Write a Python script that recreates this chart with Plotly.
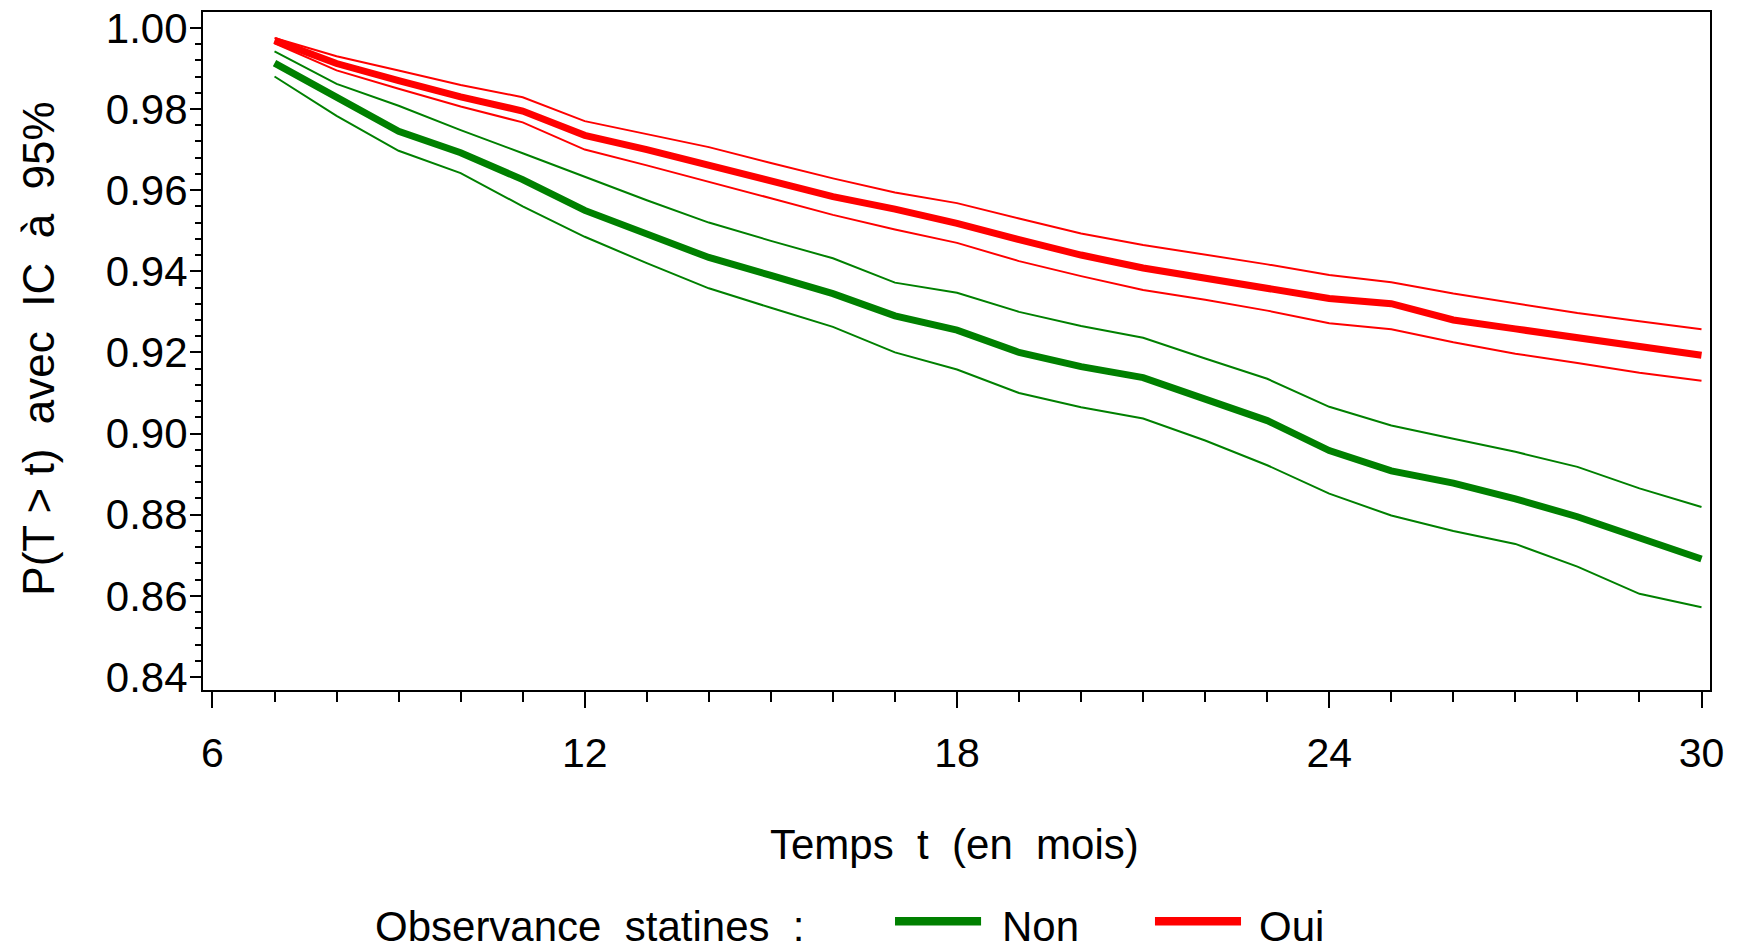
import plotly.graph_objects as go

# ---- data ----
months = [7, 8, 9, 10, 11, 12, 13, 14, 15, 16, 17, 18, 19, 20,
          21, 22, 23, 24, 25, 26, 27, 28, 29, 30]

oui_surv = [0.9969, 0.9912, 0.9870, 0.9830, 0.9795, 0.9735, 0.9700, 0.9662,
            0.9622, 0.9584, 0.9553, 0.9518, 0.9478, 0.9440, 0.9408, 0.9383,
            0.9360, 0.9333, 0.9320, 0.9280, 0.9258, 0.9235, 0.9214, 0.9193]
oui_upper = [0.9975, 0.9930, 0.9895, 0.9859, 0.9829, 0.9770, 0.9738, 0.9706,
             0.9667, 0.9629, 0.9594, 0.9568, 0.9530, 0.9493, 0.9465, 0.9441,
             0.9417, 0.9391, 0.9373, 0.9345, 0.9321, 0.9297, 0.9277, 0.9257]
oui_lower = [0.9962, 0.9895, 0.9850, 0.9806, 0.9767, 0.9700, 0.9661, 0.9621,
             0.9580, 0.9539, 0.9503, 0.9470, 0.9425, 0.9388, 0.9354, 0.9330,
             0.9303, 0.9272, 0.9257, 0.9225, 0.9197, 0.9174, 0.9150, 0.9130]

non_surv = [0.9913, 0.9830, 0.9745, 0.9692, 0.9626, 0.9550, 0.9492, 0.9434,
            0.9390, 0.9345, 0.9290, 0.9255, 0.9200, 0.9165, 0.9138, 0.9083,
            0.9032, 0.8958, 0.8908, 0.8878, 0.8839, 0.8795, 0.8742, 0.8691]
non_upper = [0.9942, 0.9862, 0.9808, 0.9748, 0.9691, 0.9633, 0.9575, 0.9520,
             0.9475, 0.9432, 0.9372, 0.9347, 0.9300, 0.9265, 0.9236, 0.9185,
             0.9135, 0.9066, 0.9020, 0.8987, 0.8955, 0.8918, 0.8865, 0.8819]
non_lower = [0.9880, 0.9783, 0.9697, 0.9642, 0.9560, 0.9485, 0.9420, 0.9358,
             0.9310, 0.9263, 0.9200, 0.9158, 0.9100, 0.9065, 0.9037, 0.8983,
             0.8922, 0.8852, 0.8798, 0.8760, 0.8728, 0.8672, 0.8605, 0.8572]

x_ticks = [6, 12, 18, 24, 30]
y_ticks = [0.84, 0.86, 0.88, 0.90, 0.92, 0.94, 0.96, 0.98, 1.00]
y_tick_labels = ["0.84", "0.86", "0.88", "0.90", "0.92", "0.94", "0.96", "0.98", "1.00"]

GREEN = "#008000"
RED = "#FF0000"
FONT = "Liberation Sans, Arial, sans-serif"

fig = go.Figure()
for y, w in [(non_upper, 2), (non_lower, 2), (non_surv, 7)]:
    fig.add_trace(go.Scatter(x=months, y=y, mode="lines",
                             line=dict(color=GREEN, width=w), showlegend=False,
                             name="Non"))
for y, w in [(oui_upper, 2), (oui_lower, 2), (oui_surv, 7)]:
    fig.add_trace(go.Scatter(x=months, y=y, mode="lines",
                             line=dict(color=RED, width=w), showlegend=False,
                             name="Oui"))

fig.update_layout(
    width=1737, height=951,
    margin=dict(l=203, r=27, t=12, b=261, autoexpand=False),
    paper_bgcolor="white", plot_bgcolor="white",
    font=dict(family=FONT, size=41, color="black"),
    showlegend=False,
)

fig.update_xaxes(
    range=[5.847, 30.137], tickvals=x_ticks, ticktext=[str(v) for v in x_ticks],
    showgrid=False, zeroline=False, automargin=False,
    showline=True, linecolor="black", linewidth=2, mirror=True,
    ticks="outside", ticklen=16, tickwidth=1.5, tickcolor="black",
    ticklabelstandoff=10, ticklabeloverflow="allow",
    minor=dict(dtick=1, tick0=6, ticks="outside", ticklen=10, tickwidth=1.5,
               tickcolor="black", showgrid=False),
    tickfont=dict(family=FONT, size=41, color="black"),
)
fig.update_yaxes(
    range=[0.8368, 1.0039], tickvals=y_ticks, ticktext=y_tick_labels,
    showgrid=False, zeroline=False, automargin=False,
    showline=True, linecolor="black", linewidth=2, mirror=True,
    ticks="outside", ticklen=11, tickwidth=1.5, tickcolor="black",
    ticklabelstandoff=-6, ticklabeloverflow="allow",
    minor=dict(dtick=0.004, tick0=0.84, ticks="outside", ticklen=6, tickwidth=1.5,
               tickcolor="black", showgrid=False),
    tickfont=dict(family=FONT, size=42, color="black"),
)

# axis titles
fig.add_annotation(text="Temps\u00a0 t\u00a0 (en\u00a0 mois)", xref="paper", yref="paper",
                   x=0.499, y=-0.2286, showarrow=False, xanchor="center", yanchor="middle",
                   font=dict(family=FONT, size=42, color="black"))
fig.add_annotation(text="P(T > t)\u00a0 avec\u00a0 IC\u00a0 à\u00a0 95%", xref="paper", yref="paper",
                   x=-0.109, y=0.503, showarrow=False, textangle=-90,
                   xanchor="center", yanchor="middle",
                   font=dict(family=FONT, size=44, color="black"))

# custom legend
LEG_Y_TEXT = -0.349
LEG_Y_LINE = -0.341
fig.add_annotation(text="Observance\u00a0 statines\u00a0 :", xref="paper", yref="paper",
                   x=0.1128, y=LEG_Y_TEXT, showarrow=False, xanchor="left", yanchor="middle",
                   font=dict(family=FONT, size=42, color="black"))
fig.add_shape(type="line", xref="paper", yref="paper", x0=0.4592, x1=0.5163,
              y0=LEG_Y_LINE, y1=LEG_Y_LINE, line=dict(color=GREEN, width=8.5))
fig.add_annotation(text="Non", xref="paper", yref="paper",
                   x=0.5289, y=LEG_Y_TEXT, showarrow=False, xanchor="left", yanchor="middle",
                   font=dict(family=FONT, size=42, color="black"))
fig.add_shape(type="line", xref="paper", yref="paper", x0=0.6317, x1=0.6888,
              y0=LEG_Y_LINE, y1=LEG_Y_LINE, line=dict(color=RED, width=8.5))
fig.add_annotation(text="Oui", xref="paper", yref="paper",
                   x=0.6994, y=LEG_Y_TEXT, showarrow=False, xanchor="left", yanchor="middle",
                   font=dict(family=FONT, size=42, color="black"))

# remove the default 8px page margin so the figure fills the window exactly
fig.write_html("out.html",
               config={"displayModeBar": False},
               post_script="document.body.style.margin='0';document.body.style.overflow='hidden';")
